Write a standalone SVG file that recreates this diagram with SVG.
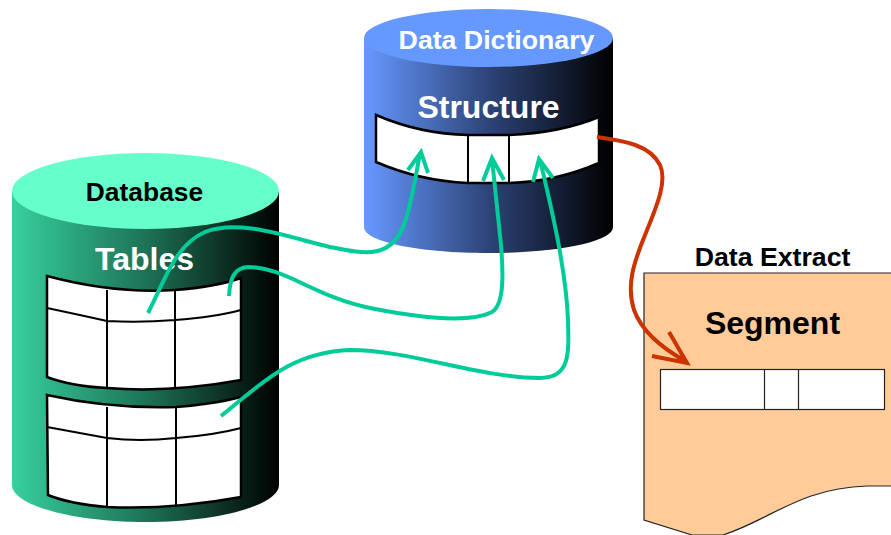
<svg xmlns="http://www.w3.org/2000/svg" width="891" height="535" viewBox="0 0 891 535">
<style>
.t{font-family:"Liberation Sans",Arial,sans-serif;font-weight:700;text-anchor:middle}
.w{fill:#fff}.k{fill:#000}
.cell{fill:#fff;stroke:#000;stroke-width:2.500}
.ln{fill:none;stroke:#000;stroke-width:2}
.g{fill:none;stroke:#00cc99;stroke-width:4}
.r{fill:none;stroke:#cc3300;stroke-width:4}
</style>
<defs>
<linearGradient id="gd" x1="0" x2="1" y1="0" y2="0"><stop offset="0" stop-color="#37d09f"/><stop offset=".5" stop-color="#1d7357"/><stop offset="1" stop-color="#000"/></linearGradient>
<linearGradient id="bd" x1="0" x2="1" y1="0" y2="0"><stop offset="0" stop-color="#6699ff"/><stop offset=".5" stop-color="#2d4478"/><stop offset="1" stop-color="#000"/></linearGradient>
</defs>
<g id="database">
<path d="M12 191V485C12 505 72 522 145.500 522S279 505 279 485V191Z" fill="url(#gd)"/>
<ellipse cx="145.500" cy="191" rx="133.500" ry="38" fill="#66ffcc"/>
<text class="t k" x="144.500" y="201" font-size="26.400">Database</text>
<text class="t w" x="144.500" y="270" font-size="32">Tables</text>
<path class="cell" d="M47 276Q115 294 175 290Q215 287 241 278V380Q170 393 107 388Q70 386 47 377Z"/>
<path class="ln" d="M47 308Q80 315 107 321Q140 323 175 320Q215 317 241 310M107 290V388M175 290V388"/>
<path class="cell" d="M47 395Q110 409 176 407Q215 404 241 397V497Q170 510 107 507Q70 504 48 495Z"/>
<path class="ln" d="M47 427Q80 433 107 438Q140 442 176 438Q215 435 241 428M107 407V507M176 407V507"/>
</g>
<g id="data-dictionary">
<path d="M364 38V227C364 242 420 253 488.500 253S613 242 613 227V38Z" fill="url(#bd)"/>
<ellipse cx="488.500" cy="38" rx="124.500" ry="29" fill="#6699ff"/>
<text class="t w" x="496.500" y="49" font-size="26.700">Data Dictionary</text>
<text class="t w" x="488.500" y="118" font-size="32">Structure</text>
<path class="cell" d="M376 115Q420 134 468 135H509Q560 133 599 117V163Q555 182 509 183H468Q420 181 376 162Z"/>
<path class="ln" d="M468 135V183M509 135V183"/>
</g>
<g id="data-extract">
<text class="t k" x="772.500" y="266" font-size="26.700">Data Extract</text>
<path d="M644 273H892V486H867C800 488 770 520 723 535H692L644 520Z" fill="#ffcc99" stroke="#222" stroke-width="1.200"/>
<text class="t k" x="772.500" y="334" font-size="32">Segment</text>
<rect x="660.500" y="369.500" width="224" height="40" fill="#fff" stroke="#222" stroke-width="1.200"/>
<path d="M764.500 370V409M798.500 370V409" stroke="#222" stroke-width="1.200" fill="none"/>
</g>
<g id="connectors">
<path class="g" d="M148 313C165 280 175 245 205 232C240 218 290 238 330 247C365 254 392 260 405 222C412 200 416 175 420 153M408 170L421 152L428 173"/>
<path class="g" d="M229 296C230 278 234 268 248 267C285 267 315 297 370 308C420 318 470 323 492 312C505 304 503 270 501 245L492 159M483 181L492 158L504 180"/>
<path class="g" d="M221 416C260 385 290 352 350 350C410 350 480 378 540 378C570 378 569 355 568 320C566 270 552 210 540 160M533 182L539 159L553 178"/>
<path class="r" d="M597 137C625 141 650 145 660 165C668 182 655 210 645 235C634 262 626 285 634 310C642 332 665 350 687 362M669 332L687 363L652 356"/>
</g>
</svg>
